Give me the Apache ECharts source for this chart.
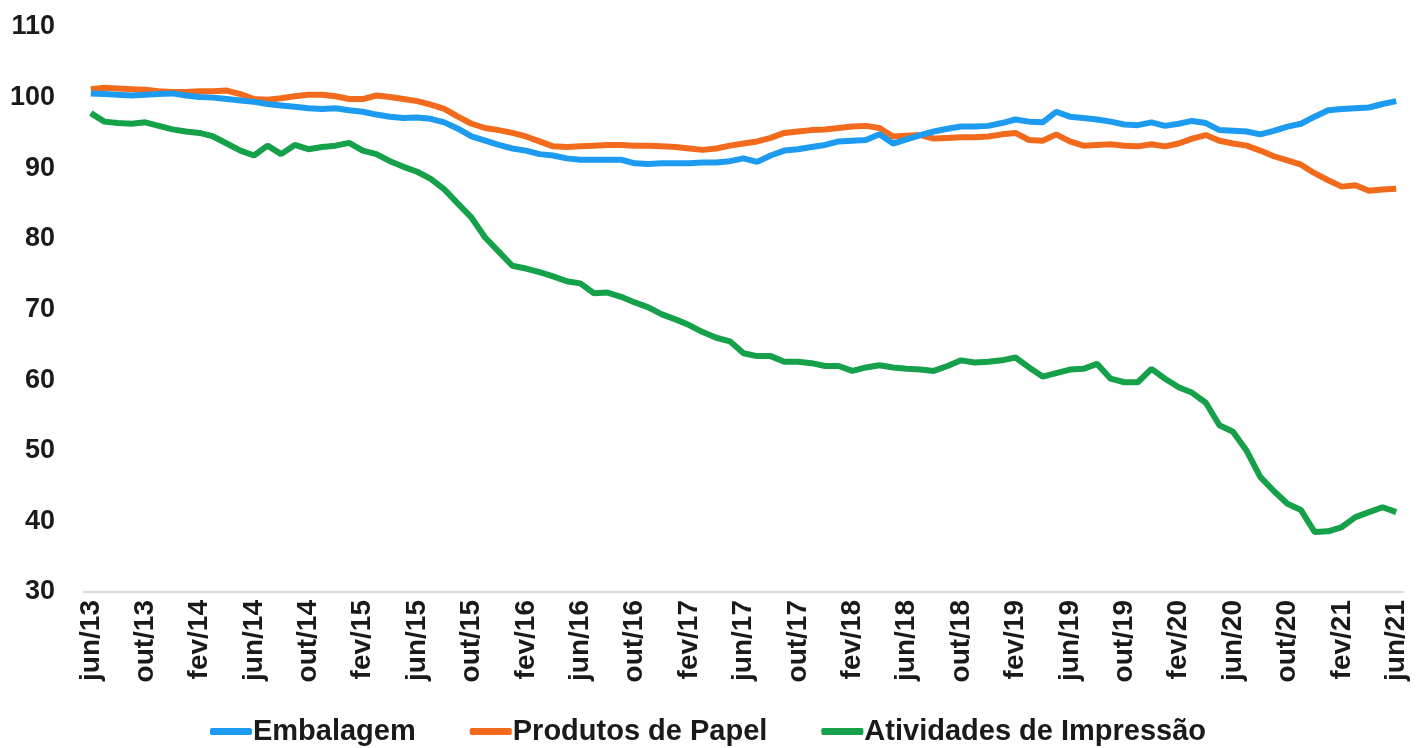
<!DOCTYPE html>
<html lang="pt-BR">

<head>
	<meta charset="UTF-8">
	<title>Índices</title>
	<script src="https://cdn.jsdelivr.net/npm/echarts@6/dist/echarts.min.js"></script>
	<style>
		html, body { margin: 0; padding: 0; background: #fff; }
		#chart { width: 1416px; height: 748px; }
	</style>
</head>

<body>
	<div id="chart"></div>
	<script>
		// meses (jun/13 a jun/21)
		var meses = [
			'jun/13', 'jul/13', 'ago/13', 'set/13', 'out/13', 'nov/13', 'dez/13',
			'jan/14', 'fev/14', 'mar/14', 'abr/14', 'mai/14', 'jun/14', 'jul/14', 'ago/14', 'set/14', 'out/14', 'nov/14', 'dez/14',
			'jan/15', 'fev/15', 'mar/15', 'abr/15', 'mai/15', 'jun/15', 'jul/15', 'ago/15', 'set/15', 'out/15', 'nov/15', 'dez/15',
			'jan/16', 'fev/16', 'mar/16', 'abr/16', 'mai/16', 'jun/16', 'jul/16', 'ago/16', 'set/16', 'out/16', 'nov/16', 'dez/16',
			'jan/17', 'fev/17', 'mar/17', 'abr/17', 'mai/17', 'jun/17', 'jul/17', 'ago/17', 'set/17', 'out/17', 'nov/17', 'dez/17',
			'jan/18', 'fev/18', 'mar/18', 'abr/18', 'mai/18', 'jun/18', 'jul/18', 'ago/18', 'set/18', 'out/18', 'nov/18', 'dez/18',
			'jan/19', 'fev/19', 'mar/19', 'abr/19', 'mai/19', 'jun/19', 'jul/19', 'ago/19', 'set/19', 'out/19', 'nov/19', 'dez/19',
			'jan/20', 'fev/20', 'mar/20', 'abr/20', 'mai/20', 'jun/20', 'jul/20', 'ago/20', 'set/20', 'out/20', 'nov/20', 'dez/20',
			'jan/21', 'fev/21', 'mar/21', 'abr/21', 'mai/21', 'jun/21'
		]

		var embalagem = [
			100.6, 100.5, 100.4, 100.3, 100.4, 100.5, 100.6, 100.3, 100.1, 100.0,
			99.8, 99.6, 99.4, 99.1, 98.9, 98.7, 98.5, 98.4, 98.5, 98.2,
			98.0, 97.6, 97.3, 97.1, 97.2, 97.0, 96.5, 95.6, 94.5, 93.9,
			93.3, 92.8, 92.5, 92.0, 91.8, 91.4, 91.2, 91.2, 91.2, 91.2,
			90.7, 90.6, 90.7, 90.7, 90.7, 90.8, 90.8, 91.0, 91.4, 90.9,
			91.8, 92.5, 92.7, 93.0, 93.3, 93.8, 93.9, 94.0, 94.8, 93.5,
			94.1, 94.7, 95.2, 95.6, 95.9, 95.9, 96.0, 96.4, 96.9, 96.6,
			96.5, 98.0, 97.3, 97.1, 96.9, 96.6, 96.2, 96.1, 96.5, 96.0,
			96.3, 96.7, 96.4, 95.4, 95.3, 95.2, 94.8, 95.3, 95.9, 96.3,
			97.3, 98.2, 98.4, 98.5, 98.6, 99.1, 99.5
		]

		var produtosPapel = [
			101.2, 101.4, 101.3, 101.2, 101.1, 100.9, 100.8, 100.8, 100.9, 100.9,
			101.0, 100.5, 99.8, 99.7, 99.9, 100.2, 100.4, 100.4, 100.2, 99.8,
			99.8, 100.3, 100.1, 99.8, 99.5, 99.0, 98.4, 97.3, 96.3, 95.7,
			95.4, 95.0, 94.5, 93.8, 93.1, 93.0, 93.1, 93.2, 93.3, 93.3,
			93.2, 93.2, 93.1, 93.0, 92.8, 92.6, 92.8, 93.2, 93.5, 93.8,
			94.3, 95.0, 95.2, 95.4, 95.5, 95.7, 95.9, 96.0, 95.7, 94.5,
			94.6, 94.7, 94.2, 94.3, 94.4, 94.4, 94.5, 94.8, 95.0, 94.0,
			93.9, 94.8, 93.8, 93.2, 93.3, 93.4, 93.2, 93.1, 93.4, 93.1,
			93.5, 94.2, 94.7, 93.9, 93.5, 93.2, 92.5, 91.7, 91.1, 90.5,
			89.3, 88.3, 87.4, 87.6, 86.8, 87.0, 87.1
		]

		var impressao = [
			97.8, 96.6, 96.4, 96.3, 96.5, 96.0, 95.5, 95.2, 95.0, 94.5,
			93.5, 92.5, 91.8, 93.2, 92.0, 93.3, 92.7, 93.0, 93.2, 93.6,
			92.5, 92.0, 91.0, 90.2, 89.5, 88.5, 87.0, 85.0, 83.0, 80.2,
			78.2, 76.2, 75.8, 75.3, 74.7, 74.0, 73.7, 72.3, 72.4, 71.8,
			71.0, 70.3, 69.3, 68.6, 67.8, 66.8, 66.0, 65.5, 63.8, 63.4,
			63.4, 62.6, 62.6, 62.4, 62.0, 62.0, 61.3, 61.8, 62.1, 61.8,
			61.6, 61.5, 61.3, 62.0, 62.8, 62.5, 62.6, 62.8, 63.2, 61.8,
			60.5, 61.0, 61.5, 61.6, 62.3, 60.2, 59.7, 59.7, 61.6, 60.2,
			59.0, 58.2, 56.8, 53.6, 52.7, 50.0, 46.3, 44.3, 42.5, 41.6,
			38.5, 38.6, 39.2, 40.6, 41.3, 42.0, 41.3
		]

		var chart = echarts.init(document.getElementById('chart'))
		var fonte = 'Liberation Sans, Arial, sans-serif'

		var option = {
			animation: false,
			grid: {
				left: 84,
				right: 13,
				top: 27,
				bottom: 156
			},
			legend: {
				top: 712,
				left: 'center',
				itemWidth: 42,
				itemHeight: 7,
				itemGap: 54,
				icon: 'roundRect',
				textStyle: {
					fontFamily: fonte,
					fontWeight: 'bold',
					fontSize: 29,
					color: '#1a1a1a',
					padding: [0, 0, 0, -4]
				},
				data: ['Embalagem', 'Produtos de Papel', 'Atividades de Impressão']
			},
			xAxis: {
				type: 'category',
				boundaryGap: true,
				data: meses,
				axisLine: { lineStyle: { color: '#d9d9d9', width: 2 } },
				axisTick: { interval: 3, length: 6, lineStyle: { color: '#d0d0d0' } },
				axisLabel: {
					interval: 3,
					rotate: 90,
					margin: 8,
					fontFamily: fonte,
					fontWeight: 'bold',
					fontSize: 28,
					color: '#1a1a1a'
				}
			},
			yAxis: {
				type: 'value',
				min: 30,
				max: 110,
				interval: 10,
				splitLine: { show: false },
				axisLine: { show: false },
				axisTick: { show: false },
				axisLabel: {
					margin: 29,
					fontFamily: fonte,
					fontWeight: 'bold',
					fontSize: 27,
					color: '#1a1a1a'
				}
			},
			series: [
				{
					name: 'Embalagem',
					type: 'line',
					data: embalagem,
					showSymbol: false,
					itemStyle: { color: '#1c9bf0' },
					lineStyle: { color: '#1c9bf0', width: 6 },
					z: 3
				},
				{
					name: 'Produtos de Papel',
					type: 'line',
					data: produtosPapel,
					showSymbol: false,
					itemStyle: { color: '#f26b1d' },
					lineStyle: { color: '#f26b1d', width: 6 },
					z: 2
				},
				{
					name: 'Atividades de Impressão',
					type: 'line',
					data: impressao,
					showSymbol: false,
					itemStyle: { color: '#15a04a' },
					lineStyle: { color: '#15a04a', width: 6 },
					z: 1
				}
			]
		}

		chart.setOption(option)
	</script>
</body>

</html>
